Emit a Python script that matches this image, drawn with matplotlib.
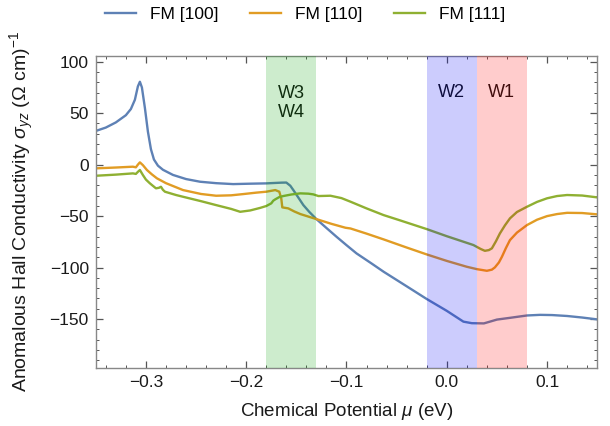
import matplotlib
matplotlib.use("Agg")
import matplotlib.pyplot as plt
from matplotlib.ticker import MultipleLocator

plt.rcParams['font.family'] = ['Liberation Sans', 'DejaVu Sans']
plt.rcParams['mathtext.fontset'] = 'custom'
plt.rcParams['mathtext.rm'] = 'Liberation Sans'
plt.rcParams['mathtext.it'] = 'Liberation Sans:italic'
plt.rcParams['mathtext.bf'] = 'Liberation Sans:bold'

# ---- data ----
x_100 = [-0.35, -0.34, -0.33, -0.32, -0.315, -0.311, -0.308, -0.306, -0.304, -0.301,
         -0.298, -0.295, -0.292, -0.288, -0.283, -0.273, -0.26, -0.246, -0.23, -0.213,
         -0.196, -0.18, -0.165, -0.16, -0.156, -0.153, -0.148, -0.143, -0.137, -0.13,
         -0.12, -0.11, -0.10, -0.09, -0.075, -0.063, -0.05, -0.037, -0.02, 0.0,
         0.0166, 0.025, 0.037, 0.043, 0.05, 0.063, 0.08, 0.093, 0.105, 0.12, 0.135, 0.15]
y_100 = [32.7, 36, 41, 48, 54, 63, 76, 80.5, 75, 55,
         32, 15, 5, -1, -5, -10, -14, -16.6, -18, -18.9,
         -18.5, -18.2, -17.5, -17.4, -20.5, -24.7, -32, -39.3, -46, -52.9,
         -61.5, -70, -78.2, -86.2, -96, -104, -112, -120, -130.5, -142,
         -152.5, -154, -154.2, -152.5, -150.5, -148.8, -146.5, -145.9, -146.1, -147, -148.5, -150.3]

x_110 = [-0.35, -0.33, -0.313, -0.31, -0.308, -0.306, -0.303, -0.299, -0.294, -0.289,
         -0.28, -0.263, -0.245, -0.23, -0.215, -0.203, -0.19, -0.18, -0.171, -0.167,
         -0.165, -0.164, -0.158, -0.152, -0.146, -0.13, -0.115, -0.101, -0.096, -0.08,
         -0.063, -0.04, -0.02, 0.0, 0.02, 0.03, 0.04, 0.045, 0.048, 0.052,
         0.055, 0.059, 0.063, 0.07, 0.08, 0.09, 0.10, 0.11, 0.12, 0.135, 0.15]
y_110 = [-3.6, -2.8, -2, -2.6, 0, 2.2, -0.5, -5.2, -9.5, -13.3,
         -18, -24.7, -28.5, -30.2, -29.8, -28.6, -27.2, -26.3, -24.7, -26.3,
         -33, -41.5, -42.5, -45.5, -48, -52.9, -57.5, -61.3, -62, -67,
         -72.6, -80.5, -87.2, -93.5, -99.2, -101.5, -103.1, -102, -99.8, -95,
         -89.5, -81, -73.3, -66, -58.7, -53.5, -50, -48, -46.8, -47, -48.3]

x_111 = [-0.35, -0.33, -0.313, -0.31, -0.308, -0.306, -0.303, -0.3, -0.296, -0.29,
         -0.287, -0.285, -0.283, -0.281, -0.27, -0.263, -0.245, -0.23, -0.215, -0.206,
         -0.196, -0.186, -0.18, -0.175, -0.173, -0.171, -0.167, -0.163, -0.155, -0.146,
         -0.138, -0.133, -0.128, -0.116, -0.105, -0.096, -0.08, -0.063, -0.047, -0.02,
         0.0, 0.0266, 0.034, 0.038, 0.042, 0.045, 0.049, 0.053, 0.058, 0.063,
         0.07, 0.08, 0.09, 0.1, 0.11, 0.12, 0.135, 0.15]
y_111 = [-10.8, -9.7, -8.5, -9, -7, -5.2, -10.1, -14.5, -18.2, -23,
         -22.5, -21.5, -24.5, -26.3, -29.5, -31.2, -35.5, -39.3, -43, -45.8,
         -44.5, -42, -40.2, -37.6, -35, -33.7, -31.5, -30.5, -29, -27.9,
         -28.2, -28.9, -30.5, -30.2, -32.5, -36, -42.5, -49, -54, -62.6,
         -69.5, -78.1, -82, -83.7, -83, -81.3, -74.5, -66.8, -59, -52.2,
         -46, -40.9, -36.2, -32.7, -30.5, -29.5, -30, -31.8]

series_labels = ['FM [100]', 'FM [110]', 'FM [111]']
series_colors = ['#5E81B5', '#E19C24', '#8FB032']

band_labels = ['W3\nW4', 'W2', 'W1']
band_ranges = [(-0.18, -0.13), (-0.02, 0.03), (0.03, 0.08)]
band_colors = ['#08A008', '#0000F5', '#FF0000']
band_text_x = [-0.155, 0.005, 0.055]
band_text_y = [60, 70, 70]

# ---- figure ----
fig = plt.figure(figsize=(6.10, 4.26), dpi=100)
ax = fig.add_axes([0.157, 0.1362, 0.822, 0.7323])

lines = []
for xs, ys, lab, col in zip([x_100, x_110, x_111], [y_100, y_110, y_111],
                            series_labels, series_colors):
    ln, = ax.plot(xs, ys, color=col, lw=1.7, label=lab, zorder=2,
                  solid_joinstyle='round')
    lines.append(ln)

for (a, b), c in zip(band_ranges, band_colors):
    ax.axvspan(a, b, color=c, alpha=0.2, lw=0, zorder=3)

for t, tx, ty in zip(band_labels, band_text_x, band_text_y):
    ax.text(tx, ty, t, ha='center', va='center', fontsize=13,
            color='#111111', zorder=1, linespacing=1.2)

ax.set_xlim(-0.35, 0.15)
ax.set_ylim(-197.5, 105.5)
ax.xaxis.set_minor_locator(MultipleLocator(0.02))
ax.yaxis.set_minor_locator(MultipleLocator(10))
ax.set_yticks([-150, -100, -50, 0, 50, 100])
ax.set_xticks([-0.3, -0.2, -0.1, 0.0, 0.1])
ax.set_xticklabels(['\u22120.3', '\u22120.2', '\u22120.1', '0.0', '0.1'])
ax.set_yticklabels(['\u2212150', '\u2212100', '\u221250', '0', '50', '100'])

ax.tick_params(which='both', direction='in', top=True, right=True,
               color='#555555', labelsize=12.5, labelcolor='#1a1a1a')
ax.tick_params(which='major', length=5, width=0.9, pad=5)
ax.tick_params(which='minor', length=2.5, width=0.7)
for s in ax.spines.values():
    s.set_color('#888888')
    s.set_linewidth(1.0)

ax.set_xlabel(r'Chemical Potential $\mu$ (eV)', fontsize=13.5, color='#1a1a1a', labelpad=8)
ax.set_ylabel(r'Anomalous Hall Conductivity $\sigma_{yz}$ ($\Omega$ cm)$^{-1}$',
              fontsize=14, color='#1a1a1a', labelpad=10)

fig.legend(handles=lines, loc='center', bbox_to_anchor=(0.5, 0.966), ncol=3,
           frameon=False, fontsize=12.5, handlelength=1.8, columnspacing=1.8,
           handletextpad=0.8)

fig.savefig('out.png', dpi=100)
